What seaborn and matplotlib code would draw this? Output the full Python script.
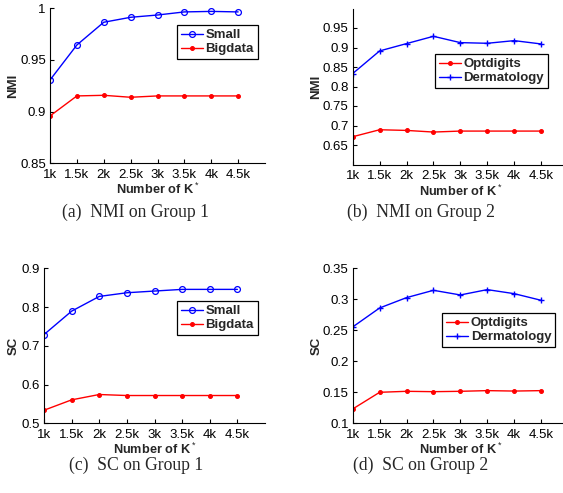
import matplotlib
matplotlib.use("Agg")
import matplotlib.pyplot as plt
import seaborn as sns
import pandas as pd

sns.set_style("ticks")
plt.rcParams['font.family'] = ['Liberation Sans', 'DejaVu Sans']
plt.rcParams['xtick.direction'] = 'in'
plt.rcParams['ytick.direction'] = 'in'
plt.rcParams['mathtext.fontset'] = 'custom'
plt.rcParams['mathtext.rm'] = 'Liberation Sans'

k_values = [1, 1.5, 2, 2.5, 3, 3.5, 4, 4.5]
k_labels = ["1k", "1.5k", "2k", "2.5k", "3k", "3.5k", "4k", "4.5k"]

nmi_small = [0.9306, 0.9645, 0.9865, 0.9913, 0.9935, 0.9965, 0.9970, 0.9965]
nmi_bigdata = [0.8958, 0.9152, 0.9158, 0.9139, 0.9152, 0.9152, 0.9152, 0.9152]
nmi_optdigits = [0.6712, 0.6891, 0.6874, 0.6832, 0.6857, 0.6857, 0.6857, 0.6857]
nmi_dermatology = [0.8332, 0.8912, 0.9100, 0.9287, 0.9125, 0.9108, 0.9176, 0.9091]

sc_small = [0.7290, 0.7894, 0.8274, 0.8369, 0.8413, 0.8456, 0.8456, 0.8456]
sc_bigdata = [0.5337, 0.5605, 0.5743, 0.5717, 0.5717, 0.5717, 0.5717, 0.5717]
sc_optdigits = [0.1231, 0.1500, 0.1516, 0.1510, 0.1516, 0.1527, 0.1520, 0.1527]
sc_dermatology = [0.2554, 0.2860, 0.3027, 0.3145, 0.3070, 0.3156, 0.3091, 0.2984]

captions = ["(a)  NMI on Group 1", "(b)  NMI on Group 2",
            "(c)  SC on Group 1", "(d)  SC on Group 2"]

W, H = 563, 493
fig = plt.figure(figsize=(W / 100, H / 100), dpi=100)


def make_ax(x0, x1, ytop, ybot):
    return fig.add_axes([x0 / W, 1 - ybot / H, (x1 - x0) / W, (ybot - ytop) / H])


BLUE = (0, 0, 1)
RED = (1, 0, 0)
styles = {
    "Small": dict(color=BLUE, marker='o', markersize=4.2, markerfacecolor='none',
                  markeredgecolor=BLUE, markeredgewidth=0.9),
    "Bigdata": dict(color=RED, marker='.', markersize=5.5, markerfacecolor=RED,
                    markeredgecolor=RED, markeredgewidth=0.8),
    "Optdigits": dict(color=RED, marker='.', markersize=5.5, markerfacecolor=RED,
                      markeredgecolor=RED, markeredgewidth=0.8),
    "Dermatology": dict(color=BLUE, marker='+', markersize=5, markeredgecolor=BLUE,
                        markeredgewidth=1.0),
}

panels = [
    dict(box=(50, 265, 8.3, 163.3), series=[("Small", nmi_small), ("Bigdata", nmi_bigdata)],
         ylim=(0.85, 1.0), yticks=[0.85, 0.9, 0.95, 1.0], ylabels=["0.85", "0.9", "0.95", "1"],
         ylab="NMI", leg=(0.967, 0.892), ylabx=13, cap=(136, 212)),
    dict(box=(352.7, 568, 8.5, 164.5), series=[("Optdigits", nmi_optdigits), ("Dermatology", nmi_dermatology)],
         ylim=(0.6, 1.0), yticks=[0.65, 0.7, 0.75, 0.8, 0.85, 0.9, 0.95],
         ylabels=["0.65", "0.7", "0.75", "0.8", "0.85", "0.9", "0.95"],
         ylab="NMI", leg=(0.908, 0.708), ylabx=316, cap=(421, 212)),
    dict(box=(44, 265, 268.3, 423.3), series=[("Small", sc_small), ("Bigdata", sc_bigdata)],
         ylim=(0.5, 0.9), yticks=[0.5, 0.6, 0.7, 0.8, 0.9], ylabels=["0.5", "0.6", "0.7", "0.8", "0.9"],
         ylab="SC", leg=(0.968, 0.789), ylabx=14, cap=(136, 465)),
    dict(box=(352.7, 568, 268.3, 423.3), series=[("Optdigits", sc_optdigits), ("Dermatology", sc_dermatology)],
         ylim=(0.1, 0.35), yticks=[0.1, 0.15, 0.2, 0.25, 0.3, 0.35],
         ylabels=["0.1", "0.15", "0.2", "0.25", "0.3", "0.35"],
         ylab="SC", leg=(0.941, 0.712), ylabx=317, cap=(421, 465)),
]

for p, cap in zip(panels, captions):
    ax = make_ax(*p["box"])
    for name, vals in p["series"]:
        df = pd.DataFrame({"K": k_values, "val": vals})
        sns.lineplot(data=df, x="K", y="val", ax=ax, label=name, linewidth=1.0, **styles[name])
    ax.set_xlim(1, 5)
    ax.set_ylim(*p["ylim"])
    ax.set_xticks(k_values)
    ax.set_xticklabels(k_labels)
    ax.set_yticks(p["yticks"])
    ax.set_yticklabels(p["ylabels"])
    ax.tick_params(labelsize=9.5, length=3, width=0.8, colors='black')
    ax.tick_params(axis='y', pad=3)
    ax.tick_params(axis='x', pad=4)
    for s in ["top", "right"]:
        ax.spines[s].set_visible(False)
    for s in ["left", "bottom"]:
        ax.spines[s].set_linewidth(0.8)
        ax.spines[s].set_color('black')
    ax.set_xlabel("Number of K$^*$", fontsize=9.2, fontweight='bold', labelpad=1)
    ax.set_ylabel("")
    ax.set_facecolor('white')
    x0, x1, yt, yb = p["box"]
    fig.text(p["ylabx"] / W, 1 - ((yt + yb) / 2) / H, p["ylab"], rotation=90,
             fontsize=9.5, fontweight='bold', ha='center', va='center')
    leg = ax.legend(loc='upper right', bbox_to_anchor=p["leg"], borderaxespad=0,
                    fancybox=False, framealpha=1, edgecolor='black',
                    prop=dict(weight='bold', size=9.5), handlelength=1.7,
                    handletextpad=0.2, borderpad=0.3, labelspacing=0.15)
    leg.get_frame().set_linewidth(0.9)
    fig.text(p["cap"][0] / W, 1 - p["cap"][1] / H, cap, ha='center', va='center',
             fontsize=12.7, family='Liberation Serif')

fig.savefig("out.png", dpi=100, facecolor='white')
